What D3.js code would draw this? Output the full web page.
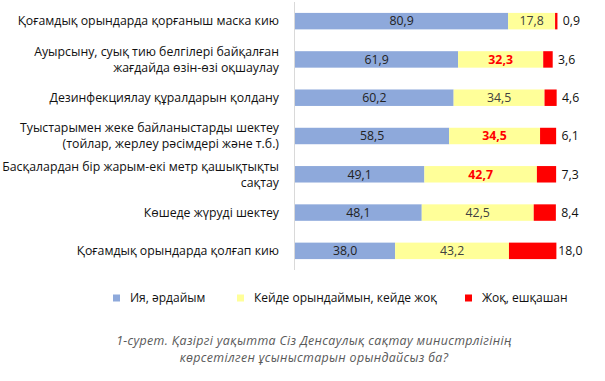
<!DOCTYPE html>
<html>
<head>
<meta charset="utf-8">
<script src="https://cdn.jsdelivr.net/npm/d3@7"></script>
<style>
  html, body { margin: 0; padding: 0; background: #fff; }
  svg { display: block; }
  text { font-family: "Open Sans", "Noto Sans", sans-serif; }
</style>
</head>
<body>
<svg id="chart" width="605" height="381"></svg>
<script>
// ---- data ----
const categories = [
  ["Қоғамдық орындарда қорғаныш маска кию"],
  ["Ауырсыну, суық тию белгілері байқалған", "жағдайда өзін-өзі оқшаулау"],
  ["Дезинфекциялау құралдарын қолдану"],
  ["Туыстарымен жеке байланыстарды шектеу", "(тойлар, жерлеу рәсімдері және т.б.)"],
  ["Басқалардан бір жарым-екі метр қашықтықты", "сақтау"],
  ["Көшеде жүруді шектеу"],
  ["Қоғамдық орындарда қолғап кию"]
];
const seriesNames = ["Ия, әрдайым", "Кейде орындаймын, кейде жоқ", "Жоқ, ешқашан"];
const always    = [80.9, 61.9, 60.2, 58.5, 49.1, 48.1, 38.0];
const sometimes = [17.8, 32.3, 34.5, 34.5, 42.7, 42.5, 43.2];
const never     = [0.9, 3.6, 4.6, 6.1, 7.3, 8.4, 18.0];
const highlightSometimes = [false, true, false, true, true, false, false];
const caption = [
  "1-сурет. Қазіргі уақытта Сіз Денсаулық сақтау министрлігінің",
  "көрсетілген ұсыныстарын орындайсыз ба?"
];

// ---- layout ----
const colors = ["#8EA9DB", "#FFFF99", "#FF0000"];
const svg = d3.select("#chart");
const x = d3.scaleLinear().domain([0, 100]).range([295, 558.5]);
const y = d3.scaleBand().domain(d3.range(categories.length)).range([2, 270]).paddingInner(0.57).paddingOuter(0.285);

// axis line
svg.append("line").attr("x1", 294.5).attr("x2", 294.5).attr("y1", 2).attr("y2", 270)
  .attr("stroke", "#d9d9d9").attr("stroke-width", 1);

const rows = categories.map((c, i) => ({ i, vals: [always[i], sometimes[i], never[i]] }));
const fmt = v => d3.format(".1f")(v).replace(".", ",");

rows.forEach(r => {
  let acc = 0;
  const g = svg.append("g");
  r.vals.forEach((v, k) => {
    const x0 = x(acc), x1 = x(acc + v);
    g.append("rect").attr("x", x0).attr("y", y(r.i)).attr("width", x1 - x0).attr("height", y.bandwidth())
      .attr("fill", colors[k]);
    const cy = y(r.i) + y.bandwidth() / 2;
    if (k < 2) {
      const hl = k === 1 && highlightSometimes[r.i];
      g.append("text").attr("x", (x0 + x1) / 2).attr("y", cy).attr("dy", "0.35em")
        .attr("text-anchor", "middle").attr("font-size", 12.3)
        .attr("fill", hl ? "#FF0000" : (k === 0 ? "#222" : "#404040"))
        .attr("font-weight", hl ? "bold" : "normal").text(fmt(v));
    } else {
      g.append("text").attr("x", x1 + 14).attr("y", cy).attr("dy", "0.35em")
        .attr("text-anchor", "middle").attr("font-size", 12.3).attr("fill", "#111").text(fmt(v));
    }
    acc += v;
  });
  // category label
  const cy = y(r.i) + y.bandwidth() / 2;
  const lines = categories[r.i];
  lines.forEach((ln, j) => {
    const off = lines.length === 1 ? 0 : (j === 0 ? -8 : 8);
    svg.append("text").attr("x", 279).attr("y", cy + off).attr("dy", "0.35em")
      .attr("text-anchor", "end").attr("font-size", 12.3).attr("fill", "#111").text(ln);
  });
});

// legend
const legendX = [113, 237, 465];
seriesNames.forEach((n, k) => {
  svg.append("rect").attr("x", legendX[k]).attr("y", 294.5).attr("width", 7).attr("height", 7).attr("fill", colors[k]);
  svg.append("text").attr("x", legendX[k] + 17).attr("y", 298).attr("dy", "0.35em")
    .attr("font-size", 12).attr("fill", "#111").text(n);
});

// caption
caption.forEach((c, j) => {
  svg.append("text").attr("x", 314).attr("y", 341 + j * 17).attr("dy", "0.35em")
    .attr("text-anchor", "middle").attr("font-size", 12.4).attr("font-style", "italic")
    .attr("letter-spacing", 0.35).attr("fill", "#595959").text(c);
});
</script>
</body>
</html>
